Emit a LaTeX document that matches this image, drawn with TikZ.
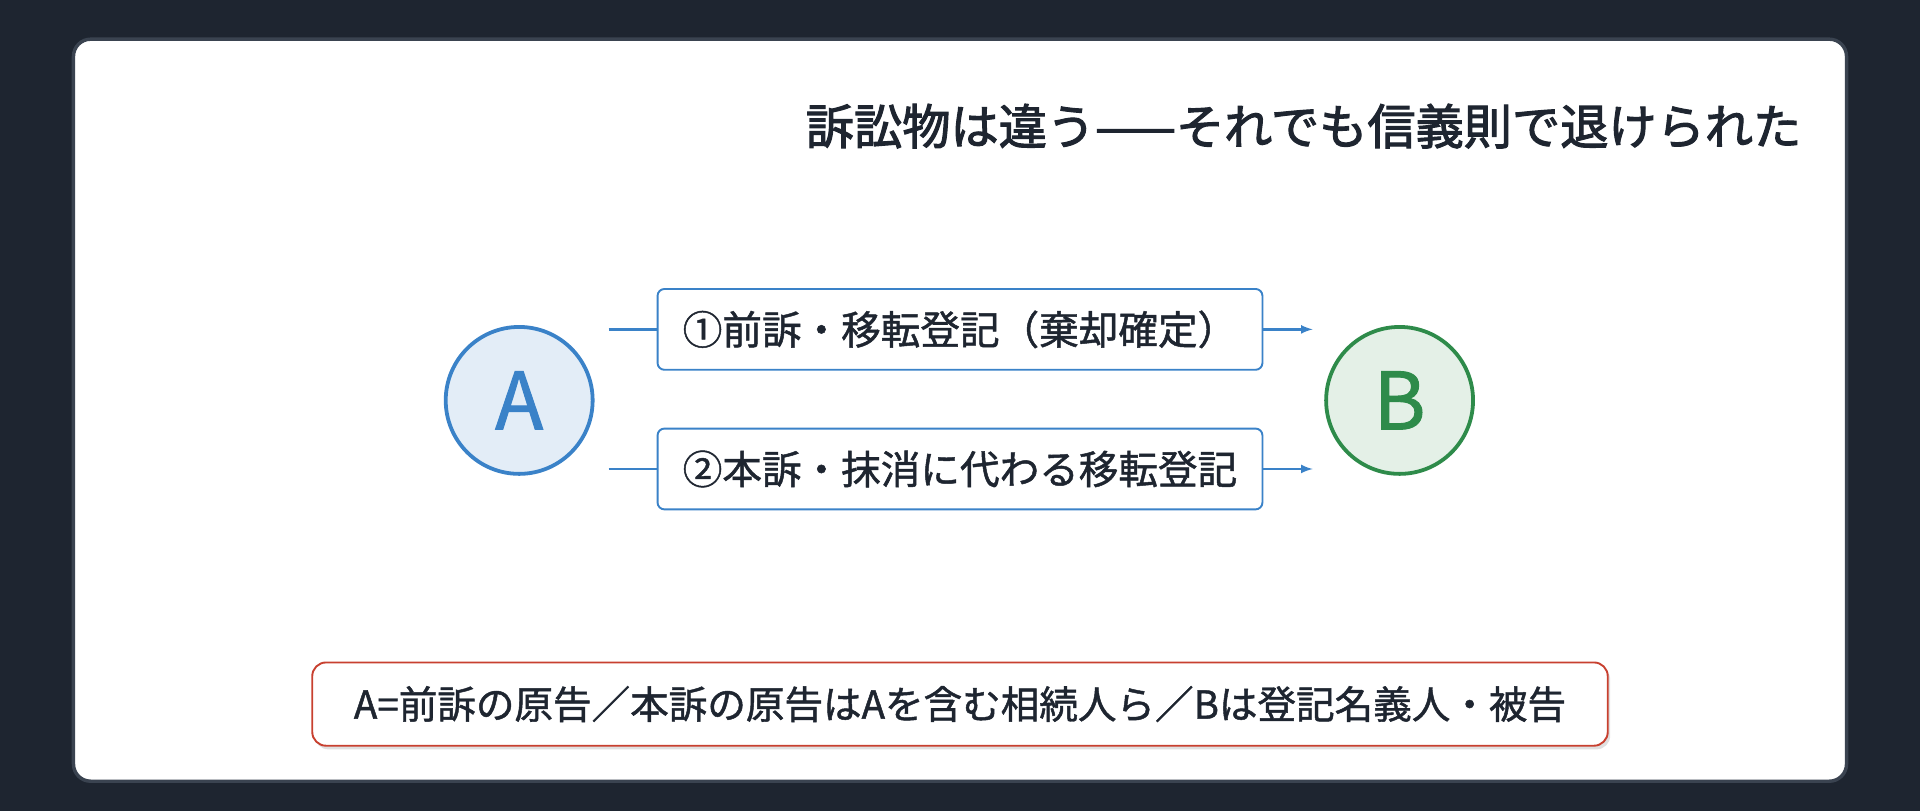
\documentclass[tikz,border=0pt]{standalone}
\usepackage{fontspec}
\setmainfont{Noto Sans CJK JP}
\newfontfamily\medf{Noto Sans CJK JP}[FakeBold=1.2]
\newfontfamily\boldf{Noto Sans CJK JP}[FakeBold=2.2]
\begin{document}
\begin{tikzpicture}[x=0.025cm,y=-0.025cm,
  lbl/.style={draw=cblue,line width=1.1pt,fill=white,rounded corners=4pt,minimum width=494*0.025cm,minimum height=66*0.025cm,font=\medf\fontsize{23}{26}\selectfont,text=cdark},
  conn/.style={draw=cblue,line width=1.3pt},
  circ/.style={circle,line width=2.2pt,minimum size=120*0.025cm,inner sep=0pt,font=\medf\fontsize{46}{50}\selectfont}]
\definecolor{cbg}{HTML}{1E2530}
\definecolor{cdark}{HTML}{1E2530}
\definecolor{cborder}{HTML}{3A4350}
\definecolor{cblue}{HTML}{3A82C8}
\definecolor{cgreen}{HTML}{2E8B4A}
\definecolor{cred}{HTML}{C8402F}
\fill[cbg] (0,0) rectangle (1568,662);
\useasboundingbox (0,0) rectangle (1568,662);
\draw[cborder,line width=2pt,fill=white,rounded corners=10pt] (60,32) rectangle (1508,638);
\node[anchor=east,text=cdark,font=\boldf\fontsize{28}{32}\selectfont] (title) at (1476,103) {訴訟物は違う——それでも信義則で退けられた};
\node[circ,draw=cblue,fill=cblue!14,text=cblue] (A) at (424,327) {A};
\node[circ,draw=cgreen,fill=cgreen!13,text=cgreen] (B) at (1143,327) {B};
\node[lbl] (p1) at (784,269) {①前訴・移転登記（棄却確定）};
\node[lbl] (p2) at (784,383) {②本訴・抹消に代わる移転登記};
\coordinate (s1) at (497,269); \coordinate (e1) at (1072,269);
\coordinate (s2) at (497,383); \coordinate (e2) at (1072,383);
\draw[conn] (s1) -- (p1.west);
\draw[conn,-latex] (p1.east) -- (e1);
\draw[conn] (s2) -- (p2.west);
\draw[conn,-latex] (p2.east) -- (e2);
\fill[black!12,rounded corners=8pt] (257,544) rectangle (1315,612);
\node[draw=cred,line width=1.1pt,fill=white,rounded corners=8pt,minimum width=1058*0.025cm,minimum height=68*0.025cm,text=cdark,font=\medf\fontsize{22.4}{26}\selectfont] (note) at (784,575) {A=前訴の原告／本訴の原告はAを含む相続人ら／Bは登記名義人・被告};
\end{tikzpicture}
\end{document}
